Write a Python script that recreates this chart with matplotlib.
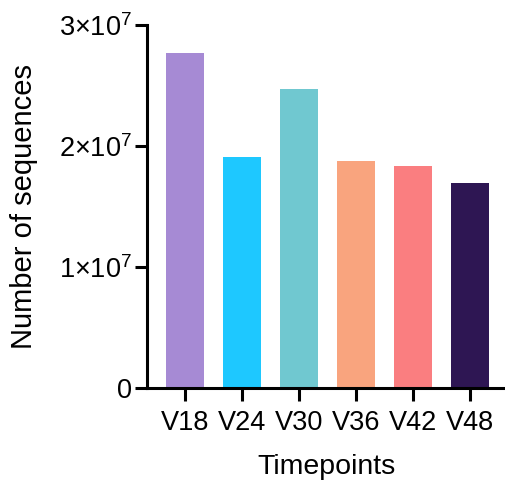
import matplotlib
matplotlib.use('Agg')
import matplotlib.pyplot as plt
from matplotlib.ticker import FixedLocator, FuncFormatter

plt.rcParams['font.family'] = ['Liberation Sans', 'DejaVu Sans']
plt.rcParams['mathtext.fontset'] = 'custom'
plt.rcParams['mathtext.rm'] = 'Liberation Sans'

timepoints = ['V18', 'V24', 'V30', 'V36', 'V42', 'V48']
sequences = [2.77e7, 1.91e7, 2.47e7, 1.876e7, 1.835e7, 1.694e7]
colors = ['#A68AD4', '#1EC8FF', '#70C8D0', '#F9A47E', '#FA7E80', '#2E1653']

fig = plt.figure(figsize=(5.06, 4.82), dpi=100)
ax = fig.add_axes([0.2905, 0.195, 0.7095, 0.753])

x = range(len(timepoints))
ax.bar(x, sequences, width=0.667, color=colors, zorder=1)

ax.set_xlim(-0.667, 5.63)
ax.set_ylim(0, 3e7)

ax.spines['top'].set_visible(False)
ax.spines['right'].set_visible(False)
for s in ['left', 'bottom']:
    ax.spines[s].set_linewidth(2.2)
    ax.spines[s].set_zorder(3)

ax.set_xticks(list(x))
ax.set_xticklabels(timepoints)
ax.yaxis.set_major_locator(FixedLocator([0, 1e7, 2e7, 3e7]))

def fmt(v, pos):
    if v == 0:
        return '0'
    return r'$\mathregular{%d{\times}10^{7}}$' % round(v / 1e7)

ax.yaxis.set_major_formatter(FuncFormatter(fmt))
ax.tick_params(axis='both', width=2.2, length=9, labelsize=19.5, color='black')
ax.tick_params(axis='x', pad=7)
ax.tick_params(axis='y', pad=2)

ax.set_xlabel('Timepoints', fontsize=20.5, labelpad=13)
ax.set_ylabel('Number of sequences', fontsize=21, labelpad=15)

fig.savefig('out.png', dpi=100)
